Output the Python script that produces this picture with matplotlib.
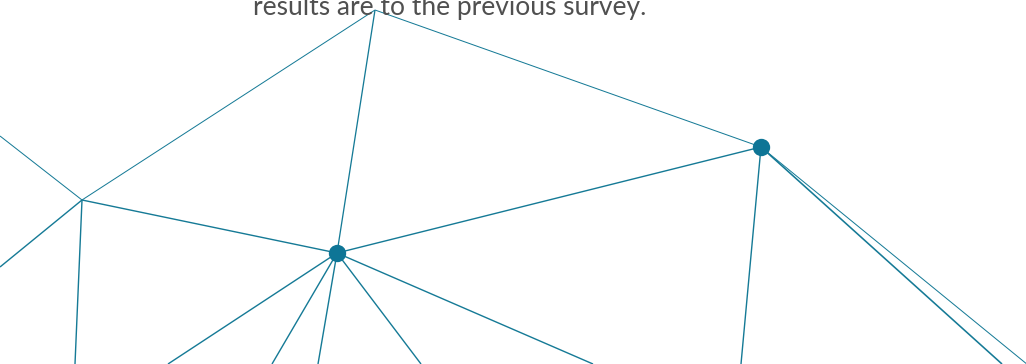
import matplotlib
matplotlib.use("Agg")
import matplotlib.pyplot as plt

# node positions (pixel space of the original graphic, y down)
node_names = ["top", "left", "hub", "right"]
node_x = [375, 82, 337, 761]
node_y = [10, 200, 253, 147]
node_dot = [False, False, True, True]

# edges that leave the canvas
outer_x = [0, 0, 75, 168, 272, 318, 421, 593, 741, 1002, 1028]
outer_y = [136, 267, 364, 364, 364, 364, 364, 364, 364, 364, 365]

# (from, to, width in px); ints are nodes, "o<i>" are outer points
edges = [
    (0, 1, 1.0), (0, 2, 1.3), (0, 3, 1.0),
    (1, 2, 1.4), (2, 3, 1.4),
    (1, "o0", 1.0), (1, "o1", 1.4), (1, "o2", 1.4),
    (2, "o3", 1.4), (2, "o4", 1.4), (2, "o5", 1.4), (2, "o6", 1.4), (2, "o7", 1.4),
    (3, "o8", 1.4), (3, "o9", 1.6), (3, "o10", 1.0),
]

caption = "results are to the previous survey."

line_col = "#157a96"
dot_col = "#0e7596"

def pos(k):
    if isinstance(k, str):
        i = int(k[1:])
        return outer_x[i], outer_y[i]
    return node_x[k], node_y[k]

fig = plt.figure(figsize=(10.26, 3.64), dpi=100)
ax = fig.add_axes([0, 0, 1, 1])
ax.set_xlim(0, 1026)
ax.set_ylim(364, 0)
ax.axis("off")

for a, b, w in edges:
    x0, y0 = pos(a)
    x1, y1 = pos(b)
    ax.plot([x0, x1], [y0, y1], color=line_col, lw=w * 0.72, solid_capstyle="butt")

dx = [x for x, d in zip(node_x, node_dot) if d]
dy = [y for y, d in zip(node_y, node_dot) if d]
ax.scatter(dx, dy, s=12.5 ** 2, color=dot_col, zorder=3, linewidths=0)

ax.text(450, 15, caption, ha="center", va="baseline", fontsize=19,
        color="#505050", family="Lato")

fig.savefig("out.png", dpi=100)
